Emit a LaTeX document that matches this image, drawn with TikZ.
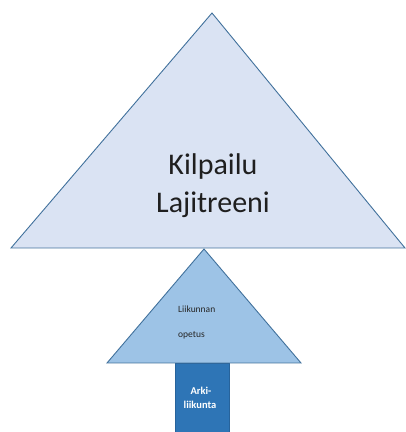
\documentclass[tikz,border=0pt]{standalone}
\usepackage{fontspec}
\setmainfont{Carlito}
\definecolor{bigfill}{HTML}{DAE3F3}
\definecolor{midfill}{HTML}{9DC3E6}
\definecolor{rectfill}{HTML}{2E75B6}
\definecolor{edge}{HTML}{41719C}
\tikzset{
  shapeedge/.style={draw=edge, line width=0.9pt, line join=miter},
  bigtext/.style={anchor=base, inner sep=0pt, font=\fontsize{30}{36}\selectfont, text=black!88},
  midtext/.style={anchor=base west, inner sep=0pt, font=\fontsize{9.5}{11}\selectfont, text=black!85},
  lowtext/.style={anchor=base, inner sep=0pt, font=\bfseries\fontsize{10.5}{12}\selectfont, text=white},
}
\begin{document}
\begin{tikzpicture}[x=1pt,y=1pt]
\useasboundingbox (0,0) rectangle (406,432);
% coordinates
\coordinate (bA) at (212,419);
\coordinate (bL) at (11,184);
\coordinate (bR) at (405,184);
\coordinate (sA) at (204,183);
\coordinate (sL) at (107,69);
\coordinate (sR) at (301,69);
% base rectangle
\filldraw[fill=rectfill, draw=rectfill!85!black, line width=0.6pt] (175,-5) rectangle (229,69);
% middle triangle
\filldraw[shapeedge, fill=midfill] (sA) -- (sR) -- (sL) -- cycle;
% big triangle
\filldraw[shapeedge, fill=bigfill] (bA) -- (bR) -- (bL) -- cycle;
% texts
\node[bigtext] (k1) at (213,257) {Kilpailu};
\node[bigtext] (k2) at (213,219) {Lajitreeni};
\node[midtext] (m1) at (178,119.3) {Liikunnan};
\node[midtext] (m2) at (178,94.3) {opetus};
\node[lowtext] (a1) at (201,37.7) {Arki-};
\node[lowtext] (a2) at (200,23.7) {liikunta};
\end{tikzpicture}
\end{document}
